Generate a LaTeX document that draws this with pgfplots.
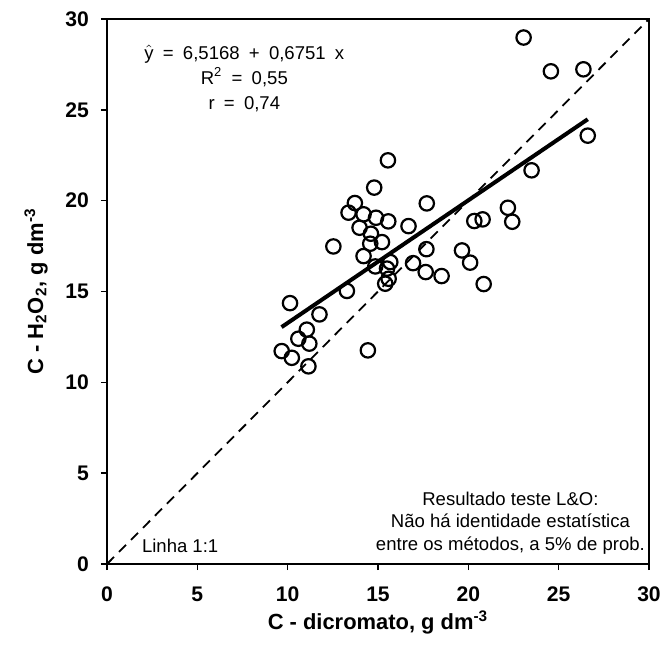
\documentclass[border=0pt]{standalone}
\usepackage{fontspec}
\setmainfont{Liberation Sans}
\usepackage{pgfplots}
\usepackage{pgfplotstable}
\pgfplotsset{compat=1.18}
\pgfplotstableread{
x y
23.06 28.98
24.57 27.12
26.37 27.23
26.61 23.58
23.50 21.67
15.55 22.22
14.79 20.72
13.72 19.87
13.37 19.34
14.20 19.25
14.89 19.06
15.57 18.86
17.70 19.85
16.69 18.60
13.98 18.51
14.61 18.18
12.53 17.48
14.57 17.63
15.22 17.72
14.20 16.95
14.85 16.38
15.68 16.62
15.50 16.26
16.94 16.56
17.68 17.33
17.64 16.07
18.52 15.85
15.59 15.70
15.40 15.43
13.28 15.03
10.13 14.36
11.76 13.74
11.06 12.90
10.59 12.40
11.20 12.13
9.67 11.72
10.23 11.35
11.15 10.88
14.44 11.76
19.65 17.26
20.10 16.59
20.33 18.88
20.79 18.97
20.85 15.41
22.19 19.61
22.43 18.84
}\pts
\pgfplotstableread{
x y
9.66 13.038
26.61 24.481
}\reg
\pgfplotstableread{
x y
0 0
30 30
}\diag
\begin{document}
\begin{tikzpicture}
\begin{axis}[
  scale only axis, width=271bp, height=272.5bp,
  xmin=0, xmax=30, ymin=0, ymax=30,
  xtick={0,5,...,30}, ytick={0,5,...,30},
  tick align=outside, xtick pos=bottom, ytick pos=left,
  major tick length=3bp,
  axis line style={line width=1.3bp},
  tick style={black, line width=0.8bp},
  tick label style={font=\fontsize{10.6}{12}\selectfont\bfseries},
  xticklabel style={yshift=-5bp},
  yticklabel style={xshift=-2.5bp},
  /pgf/number format/assume math mode=true,
  xlabel={C - dicromato, g dm\textsuperscript{-3}},
  ylabel={C - H\textsubscript{2}O\textsubscript{2}, g dm\textsuperscript{-3}},
  label style={font=\fontsize{11}{13}\selectfont\bfseries},
  xlabel style={yshift=2.5bp},
  ylabel style={yshift=2bp},
  clip=false,
]
\addplot[black, line width=0.9bp, dash pattern=on 5bp off 3.5bp] table {\diag};
\addplot[black, line width=2bp] table {\reg};
\addplot[only marks, mark=o, mark size=3.6bp, mark options={line width=1.1bp, fill=none}, black] table {\pts};
\node[align=center, font=\fontsize{9.3}{12.5}\selectfont] at (axis cs:7.6,26.75)
  {\(\hat{\mbox{y}}\)\enspace=\enspace6,5168\enspace+\enspace0,6751\enspace x\\R\textsuperscript{2}\enspace=\enspace0,55\\r\enspace=\enspace0,74};
\node[align=center, font=\fontsize{9.3}{11.3}\selectfont] at (axis cs:22.33,2.25)
  {Resultado teste L\&O:\\Não há identidade estatística\\entre os métodos, a 5\% de prob.};
\node[anchor=west, font=\fontsize{9.3}{11}\selectfont] at (axis cs:1.55,1.0) {Linha 1:1};
\end{axis}
\pgfresetboundingbox
\useasboundingbox ([shift={(-53.5bp,-43.5bp)}]current axis.south west) rectangle ([shift={(6.5bp,9.5bp)}]current axis.north east);
\end{tikzpicture}
\end{document}
